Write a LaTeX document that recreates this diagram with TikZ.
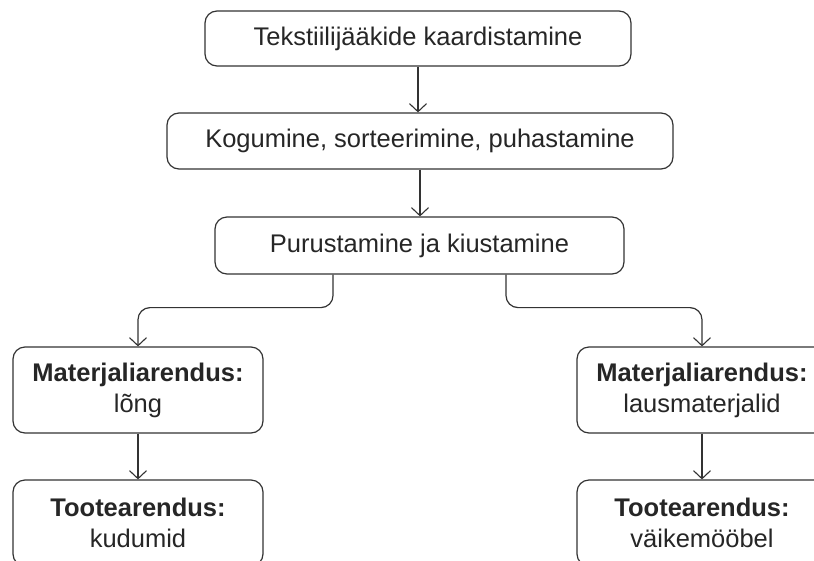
\documentclass[tikz,border=0pt]{standalone}
\usepackage{fontspec}
\setmainfont{Liberation Sans}
\usetikzlibrary{arrows.meta}
\definecolor{ink}{HTML}{262626}
\definecolor{edge}{HTML}{333333}
\tikzset{
  box/.style={draw=edge, line width=1.2pt, rounded corners=12pt, inner sep=0pt,
    align=center, text=ink, font=\fontsize{25.5}{31}\selectfont},
  conn/.style={draw=edge, line width=1.2pt, -{Straight Barb[length=8pt,width=17pt,line width=1.1pt]}},
  branch/.style={conn, rounded corners=12pt}
}
\begin{document}
\begin{tikzpicture}[x=1pt,y=-1pt]
\clip (0,0) rectangle (814,560);
\fill[white] (0,0) rectangle (814,560);
\node[box, minimum width=426pt, minimum height=55pt] (b1) at (418,38.5) {Tekstiilijääkide kaardistamine};
\node[box, minimum width=506pt, minimum height=56pt] (b2) at (420,141) {Kogumine, sorteerimine, puhastamine};
\node[box, minimum width=409pt, minimum height=57pt] (b3) at (419.5,245.5) {Purustamine ja kiustamine};
\node[box, minimum width=250pt, minimum height=86pt] (b4) at (138,390) {\textbf{Materjaliarendus:}\\lõng};
\node[box, minimum width=250pt, minimum height=86pt] (b5) at (702,390) {\textbf{Materjaliarendus:}\\lausmaterjalid};
\node[box, minimum width=250pt, minimum height=86pt] (b6) at (138,523) {\textbf{Tootearendus:}\\kudumid};
\node[box, minimum width=250pt, minimum height=86pt] (b7) at (702,523) {\textbf{Tootearendus:}\\väikemööbel};
\draw[conn] (b1.south) -- (b1.south |- b2.north);
\draw[conn] (b2.south) -- (b2.south |- b3.north);
\draw[branch] ([xshift=-86.5pt]b3.south) -- ++(0,33) -| (b4.north);
\draw[branch] ([xshift=86.5pt]b3.south) -- ++(0,33) -| (b5.north);
\draw[conn] (b4.south) -- (b6.north);
\draw[conn] (b5.south) -- (b7.north);
\end{tikzpicture}
\end{document}
